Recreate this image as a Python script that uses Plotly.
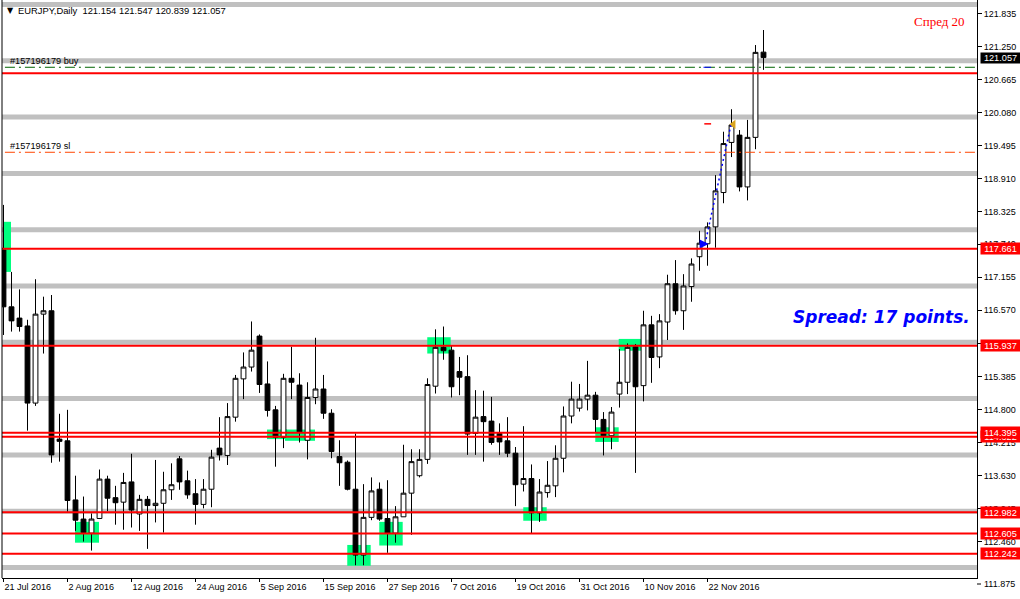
import plotly.graph_objects as go

# ---------------- data ----------------
bar_index = list(range(96))

open_ = [117.64, 116.63, 116.43, 116.29, 114.92, 116.50, 116.56, 114.28, 114.25, 113.20,
         112.86, 112.61, 112.87, 113.57, 113.24, 113.16, 113.52, 112.95, 113.21, 113.10,
         113.14, 113.38, 113.93, 113.54, 113.31, 113.12, 113.39, 114.12, 113.99, 114.67,
         115.35, 115.56, 116.11, 115.26, 114.80, 114.31, 115.36, 115.24, 114.26, 115.02,
         115.17, 114.74, 113.97, 113.87, 113.39, 112.22, 112.89, 113.39, 112.87, 112.61,
         112.90, 113.32, 113.63, 113.92, 115.22, 115.91, 115.86, 115.48, 115.39, 114.38,
         114.68, 114.60, 114.38, 114.25, 114.03, 113.48, 113.58, 112.97, 113.33, 113.45,
         113.94, 114.69, 114.83, 114.99, 115.06, 114.63, 114.34, 115.08, 115.29, 115.92,
         115.23, 116.31, 115.74, 116.36, 117.04, 116.56, 116.99, 117.52, 117.75, 118.05,
         118.66, 119.55, 119.68, 118.76, 119.64, 121.154]
high_ = [118.44, 117.25, 116.94, 116.40, 117.12, 116.81, 116.84, 114.73, 114.80, 113.63,
         113.26, 112.96, 113.74, 113.63, 113.45, 113.68, 114.02, 113.29, 113.27, 113.91,
         113.70, 113.85, 113.98, 113.72, 113.57, 113.57, 114.09, 114.67, 114.92, 115.42,
         115.82, 116.37, 116.14, 115.66, 114.87, 115.44, 115.92, 115.45, 115.29, 116.08,
         115.42, 114.81, 114.26, 113.90, 114.38, 113.48, 113.60, 113.51, 113.55, 113.09,
         114.18, 114.10, 114.10, 115.36, 116.23, 116.28, 115.95, 115.74, 115.77, 115.15,
         115.14, 115.03, 114.56, 114.67, 114.14, 114.51, 113.83, 113.57, 113.89, 114.17,
         114.86, 115.30, 115.26, 115.67, 115.12, 114.76, 114.85, 115.88, 115.98, 115.97,
         116.56, 116.47, 116.50, 117.20, 117.46, 117.21, 117.49, 117.98, 118.13, 118.97,
         119.74, 120.14, 119.77, 119.95, 121.28, 121.547]
low_ = [116.13, 116.19, 116.19, 114.43, 114.87, 115.80, 113.86, 113.88, 112.99, 112.65,
        112.46, 112.30, 112.86, 113.00, 112.76, 112.67, 112.71, 112.65, 112.33, 112.80,
        112.62, 113.20, 113.38, 113.22, 112.76, 113.05, 113.07, 113.90, 113.82, 114.59,
        114.99, 115.48, 115.10, 114.68, 113.79, 114.12, 114.99, 114.22, 113.92, 114.90,
        114.64, 113.94, 113.45, 113.37, 112.04, 112.04, 112.84, 112.83, 112.26, 112.44,
        112.90, 112.58, 113.60, 113.84, 115.09, 115.69, 115.02, 115.06, 114.00, 114.00,
        113.88, 114.18, 114.00, 113.96, 113.09, 113.35, 112.61, 112.81, 113.24, 113.25,
        113.69, 114.56, 114.77, 114.79, 114.39, 113.99, 114.10, 114.84, 115.08, 113.68,
        114.95, 115.28, 115.54, 116.04, 116.49, 116.22, 116.72, 117.27, 117.36, 117.68,
        118.47, 119.29, 118.68, 118.52, 119.43, 120.839]
close_ = [116.63, 116.38, 116.28, 114.92, 116.50, 116.56, 114.00, 114.24, 113.19, 112.84,
          112.62, 112.86, 113.57, 113.23, 113.15, 113.51, 113.02, 113.21, 113.10, 113.14,
          113.38, 113.47, 113.52, 113.29, 113.12, 113.39, 113.96, 114.00, 114.68, 115.36,
          115.56, 115.86, 115.25, 114.79, 114.31, 115.36, 115.29, 114.41, 115.02, 115.17,
          114.74, 114.06, 113.86, 113.39, 112.22, 112.89, 113.36, 112.86, 112.61, 112.90,
          113.32, 113.88, 113.92, 115.25, 115.91, 115.85, 115.21, 115.38, 114.37, 114.67,
          114.59, 114.22, 114.23, 114.03, 113.47, 113.58, 112.97, 113.34, 113.46, 113.94,
          114.69, 114.99, 114.99, 115.06, 114.63, 114.34, 114.76, 115.29, 115.91, 115.21,
          116.31, 115.73, 116.38, 117.04, 116.56, 117.00, 117.39, 117.76, 118.05, 118.69,
          119.53, 119.86, 118.76, 119.64, 121.15, 121.057]

date_tick_index = [0, 8, 16, 24, 32, 40, 48, 56, 64, 72, 80, 88]
date_tick_text = ["21 Jul 2016", "2 Aug 2016", "12 Aug 2016", "24 Aug 2016", "5 Sep 2016",
                  "15 Sep 2016", "27 Sep 2016", "7 Oct 2016", "19 Oct 2016", "31 Oct 2016",
                  "10 Nov 2016", "22 Nov 2016"]

price_tick_vals = [121.835, 121.250, 120.665, 120.080, 119.495, 118.910, 118.325, 117.740,
                   117.155, 116.570, 115.970, 115.385, 114.800, 114.215, 113.630, 113.045,
                   112.460]
price_tick_text = ["121.835", "121.250", "120.665", "120.080", "119.495", "118.910", "118.325",
                   "117.740", "117.155", "116.570", "115.970", "115.385", "114.800", "114.215",
                   "113.630", "113.045", "112.460"]
bottom_tick_text = "111.875"

round_levels = [112, 113, 114, 115, 116, 117, 118, 119, 120, 121, 122]
red_levels = [120.778, 117.661, 115.937, 114.395, 114.322, 112.982, 112.605, 112.242]
red_label_vals = [117.661, 115.937, 114.322, 114.395, 112.982, 112.605, 112.242]
red_label_text = ["117.661", "115.937", "114.322", "114.395", "112.982", "112.605", "112.242"]
last_price = 121.057
last_price_text = "121.057"

buy_level = 120.885
sl_level = 119.375

# zones: (x0, x1, y0, y1) in bar-index / price units
zone_x0 = [-0.06, 8.94, 32.94, 35.19, 42.97, 46.97, 52.97, 64.97, 73.97, 76.90]
zone_x1 = [0.94, 11.94, 35.44, 38.94, 45.90, 49.90, 55.90, 67.90, 76.90, 79.78]
zone_y0 = [117.25, 112.44, 114.28, 114.25, 112.03, 112.39, 115.80, 112.83, 114.23, 115.85]
zone_y1 = [118.14, 112.81, 114.45, 114.45, 112.40, 112.81, 116.09, 113.07, 114.49, 116.06]

trade_x = [87.69, 90.94]
trade_y = [117.746, 119.872]
close_mark_x = [87.6, 88.45]
close_mark_y = 119.88
buy_mark_x = [87.5, 88.45]

header_text = "EURJPY,Daily  121.154 121.547 120.839 121.057"

# ---------------- figure ----------------
FONT = "Liberation Sans, Arial, sans-serif"
W, H = 1020, 599
ML, MR, MT, MB = 2, 43, 0, 21
PW, PH = W - ML - MR, H - MT - MB


def px_x(px):
    return (px - ML) / PW


def px_y(py):
    return (PH + MT - py) / PH


fig = go.Figure()

fig.add_trace(go.Candlestick(
    x=bar_index, open=open_, high=high_, low=low_, close=close_,
    increasing=dict(line=dict(color="black", width=1), fillcolor="white"),
    decreasing=dict(line=dict(color="black", width=1), fillcolor="black"),
    whiskerwidth=0, showlegend=False, hoverinfo="skip",
))

# closed trade path
fig.add_trace(go.Scatter(
    x=trade_x, y=trade_y, mode="lines",
    line=dict(color="#0000FF", width=1.5, dash="2px,3px"),
    showlegend=False, hoverinfo="skip",
))
fig.add_trace(go.Scatter(
    x=[trade_x[0] + 0.45], y=[trade_y[0]], mode="markers",
    marker=dict(symbol="arrow-right", size=9, color="#0000FF",
                line=dict(width=0)),
    showlegend=False, hoverinfo="skip",
))
fig.add_trace(go.Scatter(
    x=[trade_x[1] + 0.3], y=[trade_y[1]], mode="markers",
    marker=dict(symbol="triangle-left", size=8, color="#DAA520",
                line=dict(width=0)),
    showlegend=False, hoverinfo="skip",
))
fig.add_trace(go.Scatter(
    x=close_mark_x, y=[close_mark_y, close_mark_y], mode="lines",
    line=dict(color="#FF0000", width=1.5),
    showlegend=False, hoverinfo="skip",
))

shapes = []
# zones (background)
for x0, x1, y0, y1 in zip(zone_x0, zone_x1, zone_y0, zone_y1):
    shapes.append(dict(type="rect", xref="x", yref="y", x0=x0, x1=x1, y0=y0, y1=y1,
                       fillcolor="#00FF7F", line=dict(width=0), layer="below"))
# round number levels (background)
for lv in round_levels:
    shapes.append(dict(type="line", xref="paper", yref="y", x0=0, x1=1, y0=lv, y1=lv,
                       line=dict(color="#C0C0C0", width=5), layer="below"))
# red levels
for lv in red_levels:
    shapes.append(dict(type="line", xref="paper", yref="y", x0=0, x1=1, y0=lv, y1=lv,
                       line=dict(color="#FF0000", width=2), layer="above"))
# order lines
shapes.append(dict(type="line", xref="paper", yref="y", x0=0.003, x1=1, y0=buy_level, y1=buy_level,
                   line=dict(color="#006400", width=1, dash="10px,4px,2px,4px"), layer="above"))
shapes.append(dict(type="line", xref="x", yref="y", x0=buy_mark_x[0], x1=buy_mark_x[1],
                   y0=buy_level, y1=buy_level,
                   line=dict(color="#0000FF", width=1), layer="above"))
shapes.append(dict(type="line", xref="paper", yref="y", x0=0.003, x1=1, y0=sl_level, y1=sl_level,
                   line=dict(color="#FF4500", width=1, dash="10px,4px,2px,4px"), layer="above"))
# left frame line
shapes.append(dict(type="line", xref="paper", yref="paper", x0=0, x1=0, y0=0, y1=1,
                   line=dict(color="black", width=1), layer="above"))
# bottom-most price tick (drawn below the frame like the terminal does)
shapes.append(dict(type="line", xref="paper", yref="paper", xsizemode="pixel", xanchor=1,
                   x0=0, x1=4, y0=px_y(584), y1=px_y(584),
                   line=dict(color="black", width=1)))

annotations = []
annotations.append(dict(xref="paper", yref="paper", x=px_x(5), y=px_y(11), text="▼",
                        showarrow=False, xanchor="left", yanchor="middle",
                        font=dict(family="DejaVu Sans", size=8, color="black")))
annotations.append(dict(xref="paper", yref="paper", x=px_x(16), y=px_y(11), text=header_text,
                        showarrow=False, xanchor="left", yanchor="middle",
                        font=dict(family=FONT, size=9.4, color="black")))
annotations.append(dict(xref="paper", yref="paper", x=px_x(8), y=px_y(61),
                        text="#157196179 buy", showarrow=False, xanchor="left", yanchor="middle",
                        font=dict(family=FONT, size=9.2, color="black")))
annotations.append(dict(xref="paper", yref="paper", x=px_x(8), y=px_y(146),
                        text="#157196179 sl", showarrow=False, xanchor="left", yanchor="middle",
                        font=dict(family=FONT, size=9.2, color="black")))
annotations.append(dict(xref="paper", yref="paper", x=px_x(967), y=px_y(21),
                        text="Спред 20", showarrow=False, xanchor="right", yanchor="middle",
                        font=dict(family="Liberation Serif, serif", size=13, color="#FF0000")))
annotations.append(dict(xref="paper", yref="paper", x=px_x(791), y=px_y(317),
                        text="<b><i>Spread: 17 points.</i></b>", showarrow=False,
                        xanchor="left", yanchor="middle",
                        font=dict(family="DejaVu Sans", size=17, color="#0000FF")))
annotations.append(dict(xref="paper", yref="paper", x=1, y=px_y(584), xshift=5,
                        text=bottom_tick_text, showarrow=False, xanchor="left", yanchor="middle",
                        font=dict(family=FONT, size=9, color="black")))
for v, t in zip(red_label_vals, red_label_text):
    annotations.append(dict(xref="paper", yref="y", x=1, y=v, xshift=3, text=t,
                            showarrow=False, xanchor="left", yanchor="middle",
                            bgcolor="#FF0000", width=38, height=10, borderpad=0.5,
                            font=dict(family=FONT, size=9.2, color="white")))
annotations.append(dict(xref="paper", yref="y", x=1, y=last_price, xshift=3, text=last_price_text,
                        showarrow=False, xanchor="left", yanchor="middle",
                        bgcolor="#000000", width=38, height=9, borderpad=0.5,
                        font=dict(family=FONT, size=9.2, color="white")))

fig.update_layout(
    width=W, height=H, autosize=False,
    margin=dict(l=ML, r=MR, t=MT, b=MB, pad=0),
    paper_bgcolor="white", plot_bgcolor="white",
    showlegend=False, boxgap=0.4, boxgroupgap=0,
    shapes=shapes, annotations=annotations,
    xaxis=dict(range=[-0.1875, 121.6875], tickmode="array", tickvals=date_tick_index,
               ticktext=date_tick_text, ticks="outside", ticklen=3, tickcolor="black",
               showline=True, linecolor="black", linewidth=1, showgrid=False, zeroline=False,
               ticklabelposition="outside right", rangeslider=dict(visible=False),
               tickfont=dict(family=FONT, size=9, color="black"), fixedrange=True),
    yaxis=dict(range=[111.813, 122.08], side="right", tickmode="array",
               tickvals=price_tick_vals, ticktext=price_tick_text, ticks="outside",
               ticklen=4, tickcolor="black", showline=True, linecolor="black", linewidth=1,
               showgrid=False, zeroline=False,
               tickfont=dict(family=FONT, size=9, color="black"), fixedrange=True),
)

fig.write_html("out.html")
